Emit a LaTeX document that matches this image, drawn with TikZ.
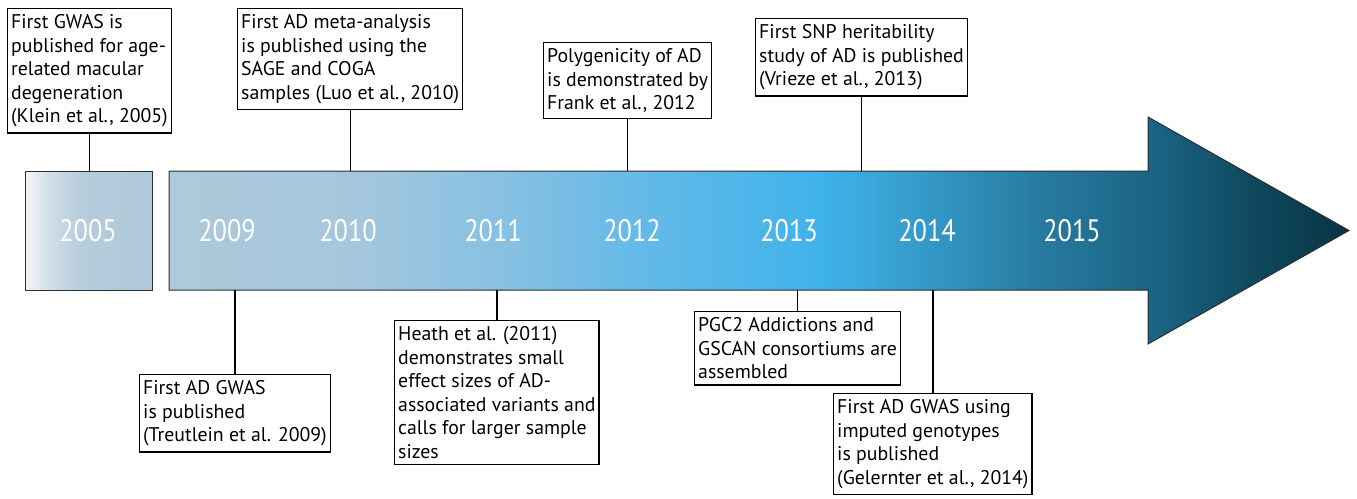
\documentclass[tikz,border=0pt]{standalone}
\usepackage{fontspec}
\setmainfont{PT Sans}
\newfontfamily\yearfont[FakeStretch=0.85]{PT Sans}

\definecolor{bar0}{HTML}{AEC9DA}
\definecolor{bar1}{HTML}{A5C7DC}
\definecolor{bar2}{HTML}{88C1E2}
\definecolor{bar3}{HTML}{62B9E8}
\definecolor{bar4}{HTML}{3FB3EA}
\definecolor{bar5}{HTML}{3498C7}
\definecolor{bar6}{HTML}{277B9F}
\definecolor{bar7}{HTML}{1B6586}
\definecolor{bar8}{HTML}{10495F}
\definecolor{bar9}{HTML}{073444}
\definecolor{old0}{HTML}{F2F5F8}
\definecolor{old1}{HTML}{C8D8E4}
\definecolor{old2}{HTML}{B5CCDB}
\definecolor{edgegray}{HTML}{2E2E2E}

% shading of the timeline arrow, path box = 25bp..75bp
\pgfdeclarehorizontalshading{barshade}{100bp}{color(0bp)=(bar0); color(25bp)=(bar0);
  color(32.66bp)=(bar1); color(39.01bp)=(bar2); color(45.36bp)=(bar3);
  color(52.56bp)=(bar4); color(57.22bp)=(bar5); color(61.88bp)=(bar6);
  color(66.53bp)=(bar7); color(70.77bp)=(bar8); color(75bp)=(bar9); color(100bp)=(bar9)}
\pgfdeclarehorizontalshading{oldshade}{100bp}{color(0bp)=(old0); color(25bp)=(old0);
  color(38bp)=(old1); color(48bp)=(old2); color(75bp)=(bar0); color(100bp)=(bar0)}

\tikzset{
	evbox/.style={draw, line width=1.4pt, align=left, inner xsep=3.5pt, inner ysep=6pt,
		font=\fontsize{19.8}{23.5}\selectfont},
	link/.style={line width=1.4pt},
	yearlbl/.style={text=white, font=\yearfont\fontsize{31}{31}\selectfont},
}

\begin{document}
\begin{tikzpicture}[x=1pt, y=-1pt]
			\useasboundingbox (0,0) rectangle (1357,498);

			% timeline
			\shadedraw	[shading=oldshade, draw=edgegray, line width=1pt]	(25,171) rectangle (152,290);
			\shadedraw	[shading=barshade, draw=edgegray, line width=1pt]
				(169,171) -- (1148,171) -- (1148,117) -- (1349,230.5) -- (1148,344) -- (1148,290) -- (169,290) -- cycle;
			\coordinate	(bartop)	at	(0,171);
			\coordinate	(barbot)	at	(0,290);

			\foreach \yr/\xx in {2005/88, 2009/227, 2010/348, 2011/493, 2012/632, 2013/789, 2014/927, 2015/1072}
				\node	[yearlbl]	(y\yr)	at	(\xx,231)	{\yr};

			% events above
			\node	[evbox, anchor=north west]	(klein)	at	(7,8)	{First GWAS is\\published for age-\\related macular\\degeneration\\(Klein et al., 2005)};
			\node	[evbox, anchor=north west]	(luo)	at	(237,8)	{First AD meta-analysis\\is published using the\\SAGE and COGA\\samples (Luo et al., 2010)};
			\node	[evbox, anchor=north west]	(frank)	at	(543,42)	{Polygenicity of AD\\is demonstrated by\\Frank et al., 2012};
			\node	[evbox, anchor=north west]	(vrieze)	at	(755,18)	{First SNP heritability\\study of AD is published\\(Vrieze et al., 2013)};

			% events below
			\node	[evbox, anchor=north west]	(treut)	at	(139,374)	{First AD GWAS\\is published\\(Treutlein et al. 2009)};
			\node	[evbox, anchor=north west]	(heath)	at	(394,320)	{Heath et al. (2011)\\demonstrates small\\effect sizes of AD-\\associated variants and\\calls for larger sample\\sizes};
			\node	[evbox, anchor=north west]	(pgc)	at	(694,311)	{PGC2 Addictions and\\GSCAN consortiums are\\assembled};
			\node	[evbox, anchor=north west]	(gel)	at	(833,393)	{First AD GWAS using\\imputed genotypes\\is published\\(Gelernter et al., 2014)};

			\draw	[link]	(klein.south)	--	(klein.south |- bartop);
			\draw	[link]	(luo.south)		--	(luo.south |- bartop);
			\draw	[link]	(frank.south)	--	(frank.south |- bartop);
			\draw	[link]	(vrieze.south)	--	(vrieze.south |- bartop);
			\draw	[link]	(barbot -| treut.north)	--	(treut.north);
			\draw	[link]	(barbot -| heath.north)	--	(heath.north);
			\draw	[link]	(barbot -| pgc.north)	--	(pgc.north);
			\draw	[link]	(barbot -| gel.north)	--	(gel.north);
		\end{tikzpicture}
\end{document}
